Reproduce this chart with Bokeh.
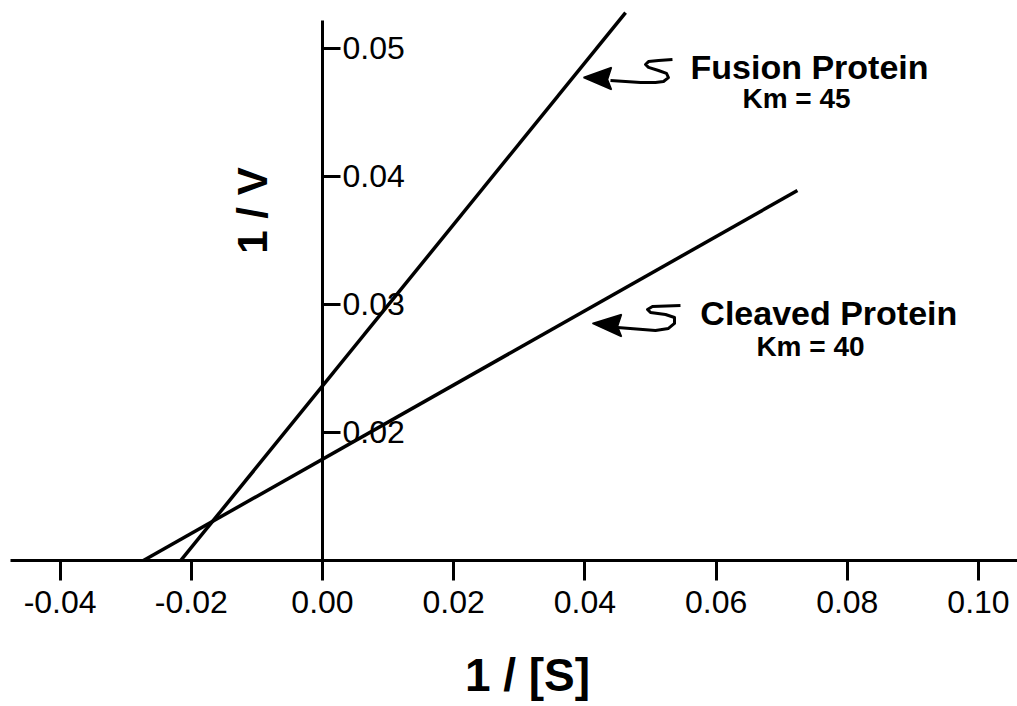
import math
from bokeh.plotting import figure
from bokeh.models import LinearAxis, FixedTicker, Range1d, Label
from bokeh.embed import file_html
from bokeh.resources import INLINE

# ---- data ----
x_ticks = [-0.04, -0.02, 0.00, 0.02, 0.04, 0.06, 0.08, 0.10]
y_ticks = [0.02, 0.03, 0.04, 0.05]

fusion_x = [-0.0216, 0.0462]
fusion_y = [0.0100, 0.0528]
cleaved_x = [-0.0273, 0.0724]
cleaved_y = [0.0100, 0.0389]

fusion_label = "Fusion Protein"
fusion_km = "Km = 45"
cleaved_label = "Cleaved Protein"
cleaved_km = "Km = 40"

# annotation pointer shapes (arrow head + squiggle tail), data units
fus_head_x = [0.0398, 0.04405, 0.04345, 0.04405]
fus_head_y = [0.04773, 0.04852, 0.04758, 0.04680]
fus_tail_x = [0.0439, 0.04848, 0.05076, 0.05198, 0.05274, 0.05244, 0.05122,
              0.04970, 0.04924, 0.04970, 0.05122, 0.05335]
fus_tail_y = [0.04750, 0.04734, 0.04734, 0.04742, 0.04773, 0.04805, 0.04828,
              0.04852, 0.04875, 0.04898, 0.04906, 0.04914]

clv_head_x = [0.04116, 0.04558, 0.04497, 0.04558]
clv_head_y = [0.02852, 0.02922, 0.02828, 0.02750]
clv_tail_x = [0.04497, 0.05076, 0.05274, 0.05366, 0.05366, 0.05229, 0.05000,
              0.04954, 0.05030, 0.05457]
clv_tail_y = [0.02820, 0.02797, 0.02813, 0.02852, 0.02898, 0.02922, 0.02938,
              0.02961, 0.02984, 0.02992]

FONT = "Liberation Sans"
W, H = 1017, 706

p = figure(width=W, height=H, output_backend="svg", toolbar_location=None,
           x_axis_type=None, y_axis_type=None, min_border=0,
           x_range=Range1d(-0.04909, 0.10595), y_range=Range1d(-0.00141, 0.05375))
p.outline_line_color = None
p.background_fill_color = "white"
p.border_fill_color = "white"

# horizontal axis (at the baseline of the lines)
xa = LinearAxis(ticker=FixedTicker(ticks=x_ticks), fixed_location=0.01)
xa.bounds = (-0.04756, 0.106)
xa.axis_line_width = 3
xa.axis_line_color = "black"
xa.major_tick_line_width = 3
xa.major_tick_out = 20
xa.major_tick_in = 0
xa.minor_tick_line_color = None
xa.major_label_standoff = 11
xa.major_label_text_font = FONT
xa.major_label_text_font_size = "32px"
xa.major_label_text_color = "black"
xa.major_label_overrides = {v: f"{v:.2f}" for v in x_ticks}
p.add_layout(xa, "below")

# vertical axis at x = 0, labels to its right
ya = LinearAxis(ticker=FixedTicker(ticks=y_ticks), fixed_location=0.0)
ya.bounds = (0.01, 0.05219)
ya.axis_line_width = 3
ya.axis_line_color = "black"
ya.major_tick_line_width = 3
ya.major_tick_out = 18
ya.major_tick_in = 0
ya.minor_tick_line_color = None
ya.major_label_standoff = 2
ya.major_label_text_font = FONT
ya.major_label_text_font_size = "32px"
ya.major_label_text_color = "black"
ya.major_label_overrides = {v: f"{v:.2f}" for v in y_ticks}
p.add_layout(ya, "right")

# data lines
p.line(fusion_x, fusion_y, line_width=3.5, line_color="black")
p.line(cleaved_x, cleaved_y, line_width=3.5, line_color="black")

# pointers
p.patch(fus_head_x, fus_head_y, fill_color="black", line_color="black", line_width=1.5)
p.line(fus_tail_x, fus_tail_y, line_width=3, line_color="black", line_join="round")
p.patch(clv_head_x, clv_head_y, fill_color="black", line_color="black", line_width=1.5)
p.line(clv_tail_x, clv_tail_y, line_width=3, line_color="black", line_join="round")

def lab(x, y, text, size, align="left", angle=0.0):
    p.add_layout(Label(x=x, y=y, text=text, text_font=FONT, text_font_size=size,
                       text_font_style="bold", text_color="black", text_align=align,
                       text_baseline="middle", angle=angle))

lab(0.0561, 0.04859, fusion_label, "34px")
lab(0.07226, 0.04609, fusion_km, "28px", align="center")
lab(0.0576, 0.02930, cleaved_label, "34px")
lab(0.07439, 0.02672, cleaved_km, "28px", align="center")

# axis titles
lab(-0.0107, 0.03734, "1 / V", "42px", align="center", angle=math.pi / 2)
lab(0.03125, 0.00102, "1 / [S]", "46px", align="center")

open("out.html", "w").write(file_html(p, INLINE))
